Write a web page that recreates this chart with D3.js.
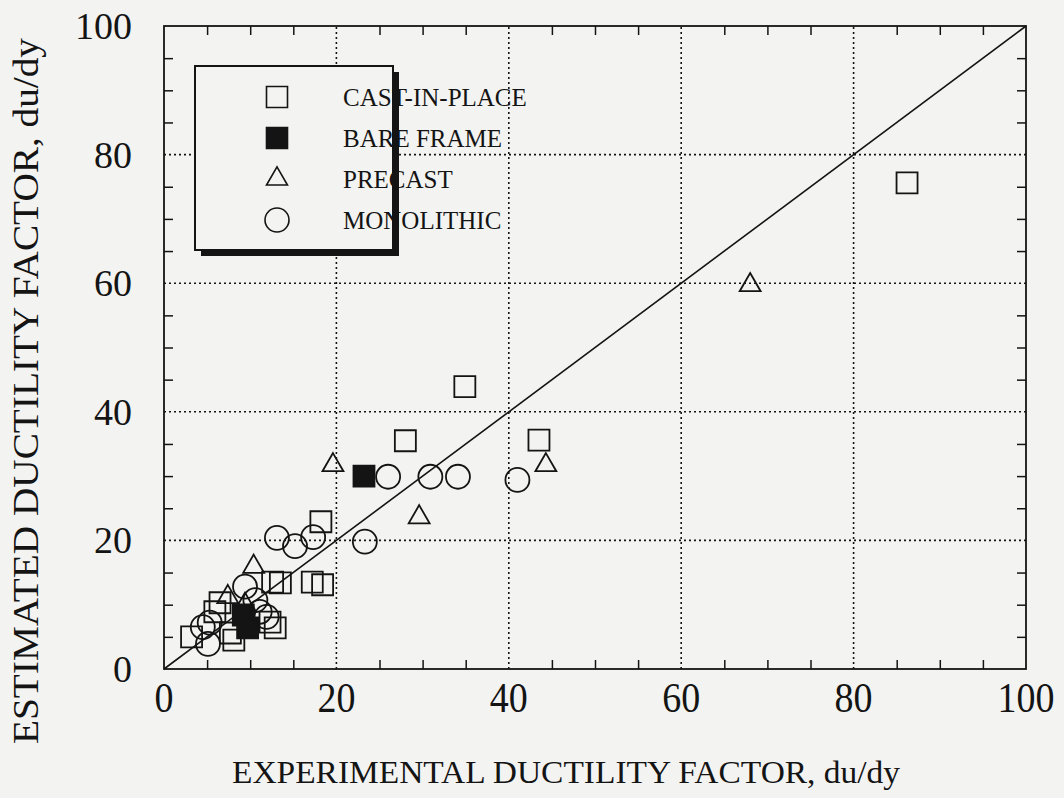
<!DOCTYPE html>
<html>
<head>
<meta charset="utf-8">
<script src="https://cdn.jsdelivr.net/npm/d3@7"></script>
<style>
    body { margin: 0; background: #f3f3f1; }
    svg { display: block; font-family: "Liberation Serif", "Times New Roman", serif; }
</style>
</head>
<body>
<svg id="chart" width="1064" height="798"></svg>
<script>
// values: [experimental, estimated]
var castInPlace = [[86.2, 75.6], [34.9, 43.9], [28.0, 35.5], [43.5, 35.6], [18.2, 22.9],
    [17.2, 13.5], [18.4, 13.1], [12.6, 13.5], [13.5, 13.4], [6.5, 10.3], [3.2, 5.0],
    [12.3, 7.3], [12.9, 6.4], [7.7, 5.6], [5.9, 8.9], [8.1, 4.5]];
var bareFrame = [[23.2, 30.0], [9.2, 8.4], [9.7, 6.4]];
var precast = [[68.0, 59.7], [19.6, 31.7], [44.3, 31.7], [29.6, 23.6], [10.4, 15.9],
    [7.4, 11.2], [9.4, 10.0]];
var monolithic = [[26.0, 29.9], [30.9, 29.9], [34.1, 29.9], [41.0, 29.4], [23.3, 19.8],
    [13.1, 20.4], [15.2, 19.1], [17.3, 20.5], [9.4, 12.8], [10.6, 10.7], [11.1, 8.9],
    [11.9, 8.1], [5.3, 7.2], [4.5, 6.5], [5.1, 3.9]];

var majorTicks = [0, 20, 40, 60, 80, 100];
var gridTicks = [20, 40, 60, 80];
var minorTicks = [5, 10, 15, 25, 30, 35, 45, 50, 55, 65, 70, 75, 85, 90, 95];
var legendLabels = ["CAST-IN-PLACE", "BARE FRAME", "PRECAST", "MONOLITHIC"];
var xTitle = "EXPERIMENTAL DUCTILITY FACTOR, du/dy";
var yTitle = "ESTIMATED DUCTILITY FACTOR, du/dy";

var ink = "#141414";
var paper = "#f3f3f1";

var svg = d3.select("#chart");
svg.append("rect").attr("width", 1064).attr("height", 798).attr("fill", paper);

var x = d3.scaleLinear().domain([0, 100]).range([164, 1026]);
var y = d3.scaleLinear().domain([0, 100]).range([669, 26]);

// dotted grid
var grid = svg.append("g").attr("stroke", ink).attr("stroke-width", 1.6).attr("stroke-dasharray", "2,3");
grid.selectAll("line.gx").data(gridTicks).enter().append("line").attr("class", "gx")
    .attr("x1", function (d) { return x(d); }).attr("x2", function (d) { return x(d); })
    .attr("y1", y(0)).attr("y2", y(100));
grid.selectAll("line.gy").data(gridTicks).enter().append("line").attr("class", "gy")
    .attr("y1", function (d) { return y(d); }).attr("y2", function (d) { return y(d); })
    .attr("x1", x(0)).attr("x2", x(100));

// inward ticks on all four sides
function tickAxis(axis, tx, ty) {
    var g = svg.append("g").attr("transform", "translate(" + tx + "," + ty + ")")
        .call(axis.tickValues(minorTicks).tickSize(-9).tickFormat(""));
    g.select(".domain").remove();
    g.selectAll("line").attr("stroke", ink).attr("stroke-width", 1.5);
}
tickAxis(d3.axisBottom(x), 0, y(0));
tickAxis(d3.axisTop(x), 0, y(100));
tickAxis(d3.axisLeft(y), x(0), 0);
tickAxis(d3.axisRight(y), x(100), 0);

svg.append("rect").attr("x", x(0)).attr("y", y(100))
    .attr("width", x(100) - x(0)).attr("height", y(0) - y(100))
    .attr("fill", "none").attr("stroke", ink).attr("stroke-width", 1.8);

// 1:1 line
svg.append("line").attr("x1", x(0)).attr("y1", y(0)).attr("x2", x(100)).attr("y2", y(100))
    .attr("stroke", ink).attr("stroke-width", 1.6);

var series = [
    { name: legendLabels[0], data: castInPlace, symbol: d3.symbolSquare, size: 441, fill: "none" },
    { name: legendLabels[1], data: bareFrame, symbol: d3.symbolSquare, size: 441, fill: ink },
    { name: legendLabels[2], data: precast, symbol: d3.symbolTriangle, size: 190, fill: "none" },
    { name: legendLabels[3], data: monolithic, symbol: d3.symbolCircle, size: 452, fill: "none" }
];

series.forEach(function (s) {
    var path = d3.symbol().type(s.symbol).size(s.size);
    svg.append("g").selectAll("path").data(s.data).enter().append("path")
        .attr("d", path)
        .attr("transform", function (d) { return "translate(" + x(d[0]) + "," + y(d[1]) + ")"; })
        .attr("fill", s.fill).attr("stroke", ink).attr("stroke-width", 1.8);
});

// tick labels
svg.append("g").selectAll("text").data(majorTicks).enter().append("text")
    .attr("x", 132).attr("y", function (d) { return y(d) + 13; })
    .attr("text-anchor", "end").attr("font-size", 38).attr("fill", ink)
    .text(function (d) { return d; });

svg.append("g").selectAll("text").data(majorTicks).enter().append("text")
    .attr("x", function (d) { return x(d); }).attr("y", 712)
    .attr("text-anchor", "middle").attr("font-size", 42).attr("fill", ink)
    .attr("textLength", function (d) { return String(d).length * 19; })
    .attr("lengthAdjust", "spacingAndGlyphs")
    .text(function (d) { return d; });

// axis titles
svg.append("text").attr("x", 566).attr("y", 783).attr("text-anchor", "middle")
    .attr("font-size", 32).attr("fill", ink)
    .attr("textLength", 668).attr("lengthAdjust", "spacingAndGlyphs")
    .text(xTitle);

svg.append("text").attr("transform", "translate(38,391) rotate(-90)").attr("text-anchor", "middle")
    .attr("font-size", 36).attr("fill", ink)
    .attr("textLength", 706).attr("lengthAdjust", "spacingAndGlyphs")
    .text(yTitle);

// legend with drop shadow
var legend = svg.append("g");
legend.append("rect").attr("x", 201).attr("y", 72).attr("width", 198).attr("height", 184).attr("fill", ink);
legend.append("rect").attr("x", 195).attr("y", 66).attr("width", 198).attr("height", 184)
    .attr("fill", paper).attr("stroke", ink).attr("stroke-width", 2);

var rows = legend.selectAll("g.row").data(series).enter().append("g").attr("class", "row")
    .attr("transform", function (d, i) { return "translate(0," + (97 + i * 41) + ")"; });
rows.append("path")
    .attr("d", function (d) { return d3.symbol().type(d.symbol).size(d.size)(); })
    .attr("transform", "translate(277,0)")
    .attr("fill", function (d) { return d.fill; }).attr("stroke", ink).attr("stroke-width", 1.6);
rows.append("text").attr("x", 343).attr("y", 9).attr("font-size", 25).attr("fill", ink)
    .text(function (d) { return d.name; });
</script>
</body>
</html>
